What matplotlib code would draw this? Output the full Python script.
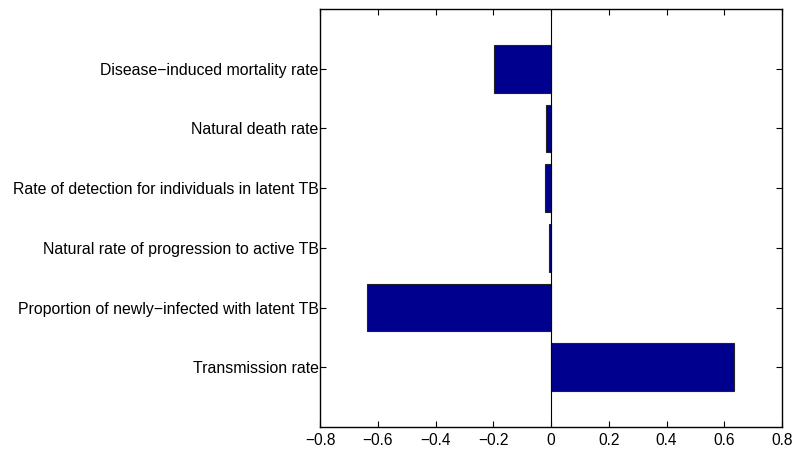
import matplotlib
matplotlib.use("Agg")
import matplotlib.pyplot as plt

labels = [
    "Transmission rate",
    "Proportion of newly\u2212infected with latent TB",
    "Natural rate of progression to active TB",
    "Rate of detection for individuals in latent TB",
    "Natural death rate",
    "Disease\u2212induced mortality rate",
]
values = [0.634, -0.636, -0.006, -0.021, -0.016, -0.196]
xticks = [-0.8, -0.6, -0.4, -0.2, 0, 0.2, 0.4, 0.6, 0.8]
xticklabels = ["\u22120.8", "\u22120.6", "\u22120.4", "\u22120.2", "0", "0.2", "0.4", "0.6", "0.8"]

plt.rcParams['font.family'] = ['Liberation Sans', 'DejaVu Sans']
fig = plt.figure(figsize=(7.95, 4.54), dpi=100)
ax = fig.add_axes([320/795, 27/454, 462/795, 418/454])

pos = list(range(1, len(labels) + 1))
ax.barh(pos, values, height=0.8, color="#00008F", edgecolor="#222222", linewidth=0.8, zorder=2)
ax.axvline(0, color="black", linewidth=0.8, zorder=3)

ax.set_xlim(-0.8, 0.8)
ax.set_ylim(0, 7)
ax.set_yticks(pos)
ax.set_yticklabels(labels, fontsize=11.4)
ax.set_xticks(xticks)
ax.set_xticklabels(xticklabels, fontsize=11.2)
ax.tick_params(direction="in", length=4, width=0.8, top=True, right=True)
ax.tick_params(axis="y", pad=1)
ax.tick_params(axis="x", pad=4)
for s in ax.spines.values():
    s.set_linewidth(1.0)

fig.savefig("out.png", dpi=100)
